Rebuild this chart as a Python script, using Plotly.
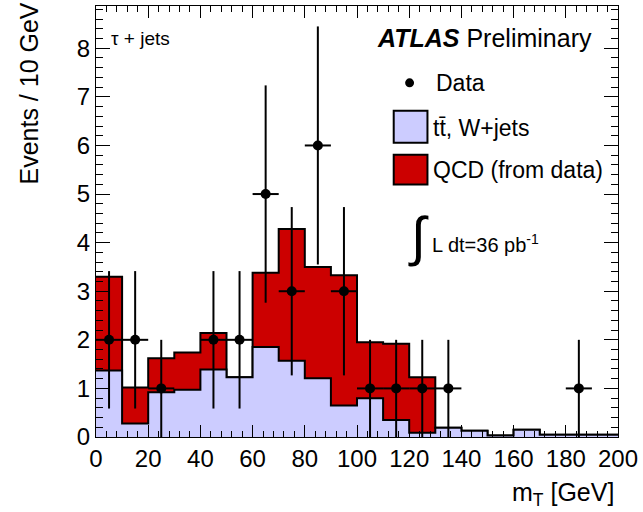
import numpy as np
import plotly.graph_objects as go

# ---- data ----
bin_edges = list(range(0, 210, 10))
ttbar_wjets = [1.37, 0.28, 0.92, 0.97, 1.39, 1.23, 1.85, 1.57, 1.21, 0.65,
               0.80, 0.35, 0.09, 0.19, 0.13, 0.03, 0.15, 0.045, 0.045, 0.045]
total_mc = [3.30, 1.02, 1.62, 1.74, 2.14, 1.23, 3.38, 4.28, 3.50, 3.33,
            1.95, 1.92, 1.23, 0.19, 0.13, 0.03, 0.15, 0.045, 0.045, 0.045]
qcd = [t - w for t, w in zip(total_mc, ttbar_wjets)]
data_counts = [2, 2, 1, 0, 2, 2, 5, 3, 6, 3, 1, 1, 1, 1, 0, 0, 0, 0, 1, 0]
x_tick_vals = list(range(0, 220, 20))
y_tick_vals = list(range(0, 9))

RED = "#cc0000"
BLUE = "#ccccff"
FONT = "Liberation Sans, Arial, Helvetica, sans-serif"

centers = [(a + b) / 2 for a, b in zip(bin_edges[:-1], bin_edges[1:])]
stack_top = [w + q for w, q in zip(ttbar_wjets, qcd)]

fig = go.Figure()

# stacked histogram: total (red) then ttbar/W+jets (blue) on top
fig.add_trace(go.Scatter(
    x=bin_edges, y=stack_top + [stack_top[-1]], mode="lines",
    line=dict(shape="hv", color="black", width=2),
    fill="tozeroy", fillcolor=RED, showlegend=False, hoverinfo="skip"))
fig.add_trace(go.Scatter(
    x=bin_edges, y=ttbar_wjets + [ttbar_wjets[-1]], mode="lines",
    line=dict(shape="hv", color="black", width=2),
    fill="tozeroy", fillcolor=BLUE, showlegend=False, hoverinfo="skip"))

# data points with sqrt(N) errors
dx = [c for c, n in zip(centers, data_counts) if n > 0]
dy = [n for n in data_counts if n > 0]
derr = [float(np.sqrt(n)) for n in dy]
fig.add_trace(go.Scatter(
    x=dx, y=dy, mode="markers",
    marker=dict(color="black", size=10),
    error_y=dict(type="data", array=derr, color="black", thickness=2, width=0),
    error_x=dict(type="constant", value=5, color="black", thickness=2, width=0),
    showlegend=False))

L, R, T, B = 96, 21, 5, 75
W, H = 643, 512
pw, ph = W - L - R, H - T - B


def px(x):
    return (x - L) / pw


def py(y):
    return (H - B - y) / ph


axis_common = dict(
    showline=True, linecolor="black", linewidth=1, mirror="allticks",
    ticks="inside", tickcolor="black", showgrid=False, zeroline=False,
    tickfont=dict(family=FONT, size=24, color="black"),
)
fig.update_xaxes(range=[0, 200], tickvals=x_tick_vals, ticklen=12,
                 minor=dict(ticks="inside", ticklen=6, dtick=4, tickcolor="black"),
                 **axis_common)
fig.update_yaxes(range=[0, 8.87], tickvals=y_tick_vals, ticklen=14,
                 minor=dict(ticks="inside", ticklen=7, dtick=0.2, tickcolor="black"),
                 **axis_common)

ann = []
ann.append(dict(text="Events / 10 GeV", textangle=-90, x=px(29), y=py(0),
                xanchor="center", yanchor="top", font=dict(size=25)))
ann.append(dict(text="m<sub>T</sub> [GeV]", x=px(620), y=py(494),
                xanchor="right", yanchor="middle", font=dict(size=25)))
ann.append(dict(text="<b><i>ATLAS</i></b> Preliminary", x=px(377), y=py(37),
                xanchor="left", yanchor="middle", font=dict(size=25)))
ann.append(dict(text="τ + jets", x=px(109), y=py(38),
                xanchor="left", yanchor="middle", font=dict(size=19)))
ann.append(dict(text="Data", x=px(437), y=py(82),
                xanchor="left", yanchor="middle", font=dict(size=23)))
ann.append(dict(text="tt\u0304, W+jets", x=px(434), y=py(127),
                xanchor="left", yanchor="middle", font=dict(size=23)))
ann.append(dict(text="QCD (from data)", x=px(434), y=py(169),
                xanchor="left", yanchor="middle", font=dict(size=23)))
ann.append(dict(text="∫", x=px(421), y=py(236),
                xanchor="center", yanchor="middle", font=dict(size=54)))
ann.append(dict(text="L dt=36 pb<sup>-1</sup>", x=px(433), y=py(243),
                xanchor="left", yanchor="middle", font=dict(size=20)))
for a in ann:
    a.update(xref="paper", yref="paper", showarrow=False)
    a["font"].update(family=FONT, color="black")

shapes = [
    dict(type="circle", xref="paper", yref="paper",
         x0=px(407.5), x1=px(416.5), y0=py(86.5), y1=py(77.5),
         fillcolor="black", line=dict(color="black", width=0)),
    dict(type="rect", xref="paper", yref="paper",
         x0=px(396), x1=px(430), y0=py(142), y1=py(110),
         fillcolor=BLUE, line=dict(color="black", width=2)),
    dict(type="rect", xref="paper", yref="paper",
         x0=px(396), x1=px(430), y0=py(184), y1=py(154),
         fillcolor=RED, line=dict(color="black", width=2)),
]

fig.update_layout(
    width=W, height=H, margin=dict(l=L, r=R, t=T, b=B),
    paper_bgcolor="white", plot_bgcolor="white",
    font=dict(family=FONT, color="black"),
    annotations=ann, shapes=shapes, showlegend=False,
)

fig.write_html("out.html")
